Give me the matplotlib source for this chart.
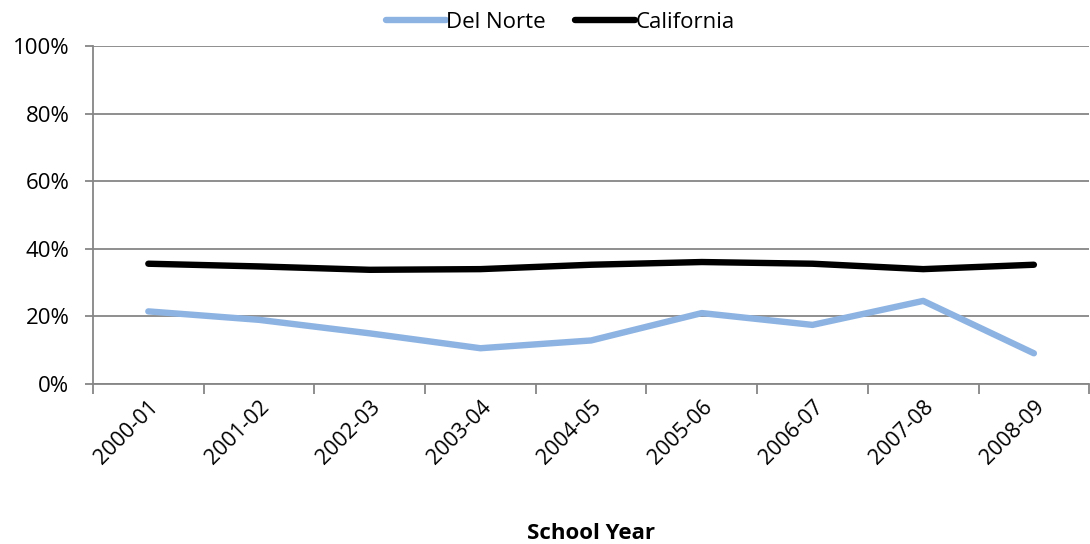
import numpy as np
import matplotlib
matplotlib.use("Agg")
from matplotlib import pyplot as plt

years = ["2000-01", "2001-02", "2002-03", "2003-04", "2004-05",
         "2005-06", "2006-07", "2007-08", "2008-09"]
del_norte = [21.5, 19.0, 15.0, 10.6, 12.9, 21.0, 17.5, 24.6, 9.1]
california = [35.6, 34.8, 33.8, 34.0, 35.3, 36.1, 35.6, 34.0, 35.3]

plt.rcParams["font.family"] = ["Open Sans", "DejaVu Sans"]

fig = plt.figure(figsize=(10.9, 5.44), dpi=100)
ax = fig.add_axes([0.0853, 0.294, 0.914, 0.6214])

x = np.arange(len(years))
ax.plot(x, del_norte, color="#8DB3E2", lw=4.6, solid_capstyle="round",
        solid_joinstyle="round", label="Del Norte")
ax.plot(x, california, color="black", lw=4.6, solid_capstyle="round",
        solid_joinstyle="round", label="California")

ax.set_xlim(-0.5, len(years) - 0.5)
ax.set_ylim(0, 100)
ax.set_yticks(np.arange(0, 101, 20))
ax.set_yticklabels([f"{v}%" for v in range(0, 101, 20)], fontsize=16)
ax.yaxis.grid(True, color="#868686", lw=1.3)
ax.set_axisbelow(True)

ax.set_xticks(x)
ax.set_xticklabels(years, rotation=45, ha="right", rotation_mode="anchor", fontsize=15.5)
ax.set_xticks(np.arange(-0.5, len(years)), minor=True)
ax.tick_params(axis="x", which="major", length=0, pad=9)
ax.tick_params(axis="x", which="minor", length=7, color="#868686", width=1.3)
ax.tick_params(axis="y", length=6, color="#868686", width=1.3, pad=11)

for side in ["top", "right"]:
    ax.spines[side].set_visible(False)
for side in ["left", "bottom"]:
    ax.spines[side].set_color("#868686")
    ax.spines[side].set_linewidth(1.3)

ax.set_xlabel("School Year", fontsize=16, fontweight="bold", labelpad=39)

ax.legend(loc="lower center", bbox_to_anchor=(0.469, 1.0), ncol=2, frameon=False,
          fontsize=16, handlelength=2.7, handletextpad=0.0, columnspacing=1.35,
          borderaxespad=0.2)

fig.savefig("out.png", dpi=100)
